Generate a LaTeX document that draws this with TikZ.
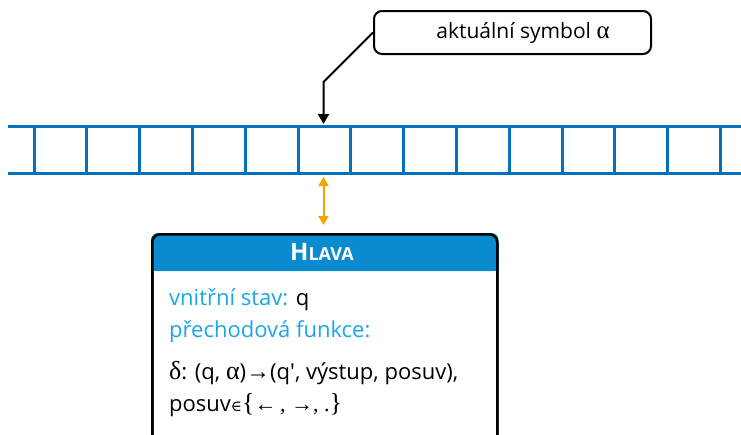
\documentclass[tikz,border=0pt]{standalone}
\usepackage{fontspec}
\setmainfont{Open Sans}
\newfontfamily\symf{Liberation Serif}
\newfontfamily\dvf{DejaVu Serif}
\usetikzlibrary{arrows.meta}
\definecolor{tapeblue}{HTML}{0072BC}
\definecolor{headblue}{HTML}{0A8ACF}
\definecolor{labcyan}{HTML}{1BA6E6}
\definecolor{arroworange}{HTML}{F2A500}
\tikzset{
  tapeline/.style={draw=tapeblue, line width=3pt},
  calloutbox/.style={draw=black, line width=2pt, rounded corners=8pt, fill=white,
     minimum width=277pt, minimum height=43pt, inner sep=0pt},
  headbox/.style={draw=black, line width=2.5pt, rounded corners=8pt,
     minimum width=345pt, minimum height=215pt, inner sep=0pt, anchor=north west},
  bodytext/.style={anchor=west, font=\fontsize{22}{24}\selectfont, inner sep=0pt},
  pointer/.style={draw=black, line width=2pt, -{Triangle[length=10pt,width=11pt]}},
  headarrow/.style={draw=arroworange, line width=2pt, {Triangle[length=9pt,width=10pt]}-{Triangle[length=9pt,width=10pt]}}
}
\begin{document}
\begin{tikzpicture}[x=1pt,y=-1pt]
\useasboundingbox (0,0) rectangle (741,434);
\clip (0,0) rectangle (741,434);
% tape
\draw[tapeline] (8,126) -- (741,126);
\draw[tapeline] (8,173) -- (741,173);
\foreach \i in {0,...,13}{
  \draw[tapeline] ({34+52.8*\i},126) -- ({34+52.8*\i},173);
}
\coordinate (celltop) at (323.5,124);
\coordinate (cellbot) at (323.5,177);
% callout
\node[calloutbox] (callout) at (512.5,32.5) {};
\node[font=\fontsize{21}{24}\selectfont, inner sep=0pt] (calltext) at (523,33) {aktuální symbol {\symf\fontsize{25}{24}\selectfont α}};
\coordinate (bend) at (323.5,82);
\draw[pointer] (callout.west) -- (bend) -- (celltop);
% head
\node[headbox] (head) at (151,233) {};
\fill[headblue, rounded corners=7pt] (head.north west) rectangle ([yshift=-38pt]head.north east);
\fill[headblue] ([yshift=-18pt]head.north west) rectangle ([yshift=-38pt]head.north east);
\node[headbox, fill=none] (headframe) at (151,233) {};
\node[text=white, font=\bfseries, inner sep=0pt] (headtitle) at (322,252)
  {{\fontsize{24}{26}\selectfont H}{\fontsize{18}{20}\selectfont LAVA}};
\coordinate (headtop) at (323.5,225);
\draw[headarrow] (cellbot) -- (headtop);
\node[bodytext] (l1) at (169,300) {{\color{labcyan}vnitřní stav:} q};
\node[bodytext] (l2) at (169,332) {\color{labcyan}přechodová funkce:};
\node[bodytext] (l3) at (169,373) {{\symf\fontsize{26}{24}\selectfont δ}: (q, {\symf\fontsize{26}{24}\selectfont α}){\symf\fontsize{24}{24}\selectfont →}(q\textquotesingle, výstup, posuv),};
\node[bodytext] (l4) at (169,405) {posuv{\dvf\fontsize{15}{20}\selectfont ∈}{\symf\fontsize{26}{24}\selectfont\{}{\symf\fontsize{22}{24}\selectfont←\,, →, .}{\symf\fontsize{26}{24}\selectfont\}}};
\end{tikzpicture}
\end{document}
